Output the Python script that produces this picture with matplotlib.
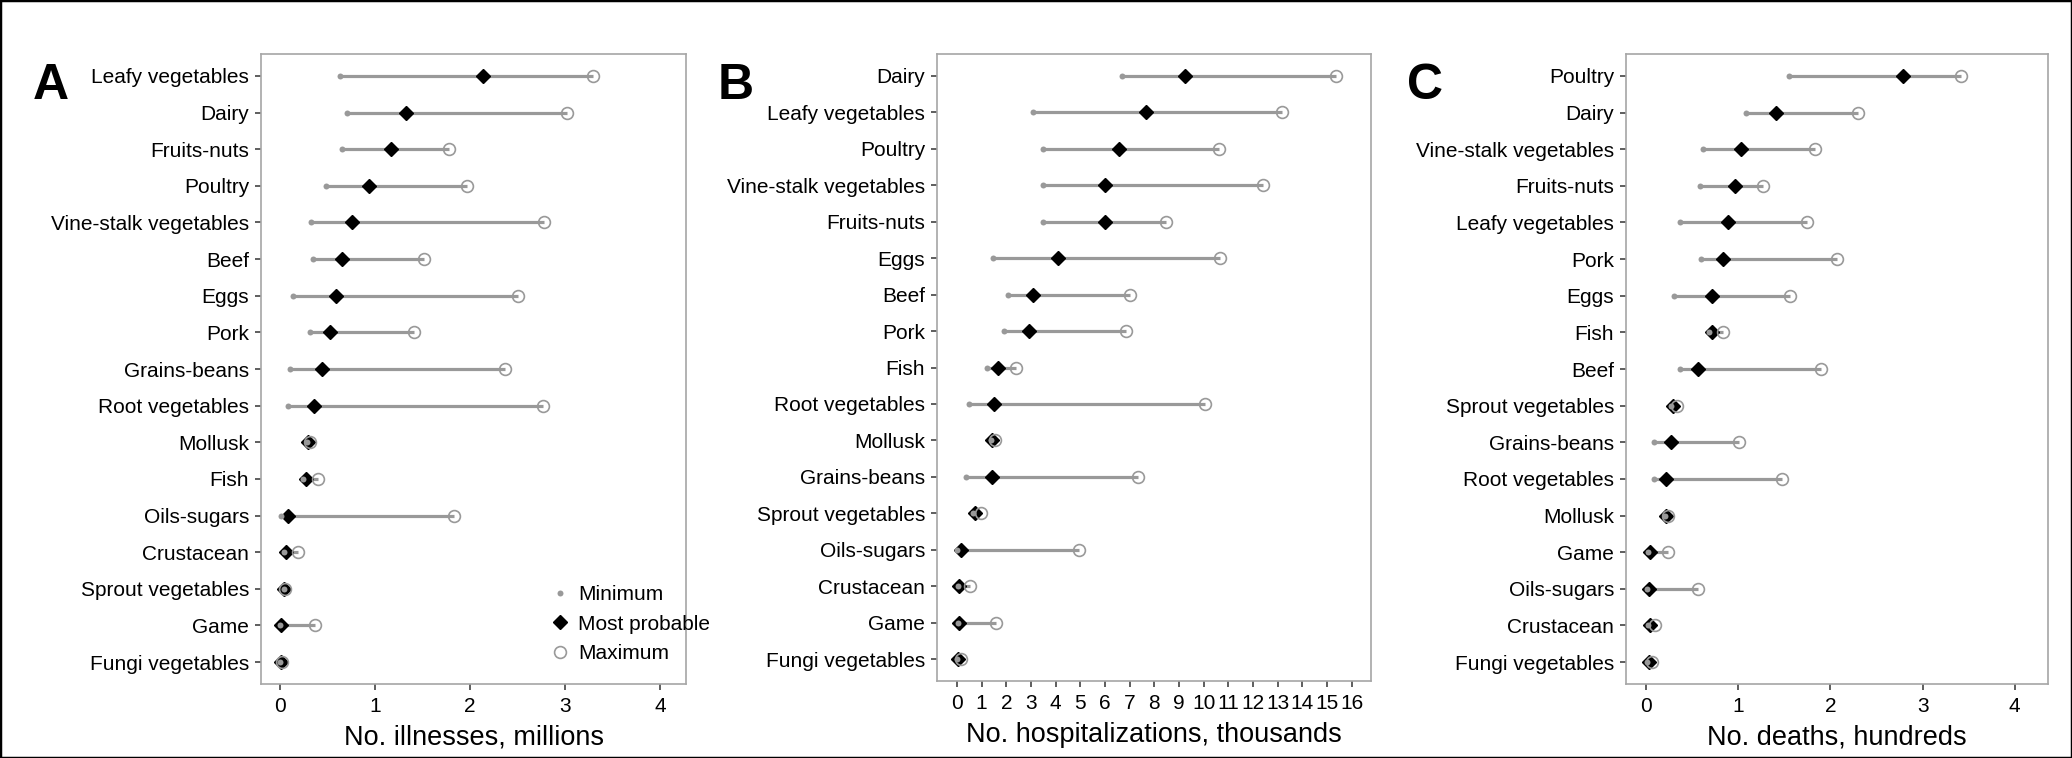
import matplotlib
matplotlib.use("Agg")
import matplotlib.pyplot as plt
from matplotlib.lines import Line2D
from matplotlib.patches import Rectangle

plt.rcParams['font.family'] = ['Liberation Sans', 'DejaVu Sans']

# panel A: illnesses, millions
cats_a = ["Leafy vegetables", "Dairy", "Fruits-nuts", "Poultry", "Vine-stalk vegetables",
          "Beef", "Eggs", "Pork", "Grains-beans", "Root vegetables", "Mollusk", "Fish",
          "Oils-sugars", "Crustacean", "Sprout vegetables", "Game", "Fungi vegetables"]
min_a = [0.63, 0.70, 0.65, 0.48, 0.33, 0.35, 0.14, 0.32, 0.11, 0.08, 0.28, 0.24, 0.01, 0.04, 0.04, 0.00, 0.00]
mp_a = [2.14, 1.32, 1.17, 0.94, 0.76, 0.65, 0.59, 0.53, 0.44, 0.36, 0.29, 0.27, 0.08, 0.06, 0.04, 0.01, 0.01]
max_a = [3.29, 3.02, 1.78, 1.97, 2.78, 1.51, 2.50, 1.41, 2.37, 2.77, 0.32, 0.40, 1.83, 0.19, 0.05, 0.37, 0.02]

# panel B: hospitalizations, thousands
cats_b = ["Dairy", "Leafy vegetables", "Poultry", "Vine-stalk vegetables", "Fruits-nuts",
          "Eggs", "Beef", "Pork", "Fish", "Root vegetables", "Mollusk", "Grains-beans",
          "Sprout vegetables", "Oils-sugars", "Crustacean", "Game", "Fungi vegetables"]
min_b = [6.69, 3.07, 3.50, 3.48, 3.48, 1.48, 2.07, 1.91, 1.23, 0.49, 1.39, 0.38, 0.65, 0.02, 0.05, 0.05, 0.00]
mp_b = [9.26, 7.68, 6.58, 6.02, 6.00, 4.08, 3.07, 2.94, 1.66, 1.50, 1.44, 1.42, 0.72, 0.18, 0.09, 0.09, 0.04]
max_b = [15.39, 13.20, 10.61, 12.43, 8.48, 10.66, 7.00, 6.84, 2.38, 10.06, 1.53, 7.36, 0.97, 4.94, 0.54, 1.59, 0.18]

# panel C: deaths, hundreds
cats_c = ["Poultry", "Dairy", "Vine-stalk vegetables", "Fruits-nuts", "Leafy vegetables",
          "Pork", "Eggs", "Fish", "Beef", "Sprout vegetables", "Grains-beans", "Root vegetables",
          "Mollusk", "Game", "Oils-sugars", "Crustacean", "Fungi vegetables"]
min_c = [1.55, 1.08, 0.62, 0.59, 0.37, 0.60, 0.30, 0.68, 0.37, 0.27, 0.09, 0.09, 0.21, 0.02, 0.01, 0.02, 0.01]
mp_c = [2.79, 1.41, 1.03, 0.97, 0.89, 0.83, 0.72, 0.72, 0.56, 0.29, 0.27, 0.22, 0.22, 0.04, 0.03, 0.04, 0.03]
max_c = [3.42, 2.30, 1.83, 1.27, 1.75, 2.07, 1.56, 0.83, 1.90, 0.34, 1.01, 1.47, 0.24, 0.24, 0.56, 0.10, 0.07]

grey = "#999999"
W, H = 2072, 758

fig = plt.figure(figsize=(W / 100, H / 100), dpi=100)


def panel(rect, cats, mins, mps, maxs, xlim, xticks, xlabel, letter, letter_x):
    ax = fig.add_axes(rect)
    n = len(cats)
    ys = [n - 1 - i for i in range(n)]
    ax.hlines(ys, mins, maxs, color=grey, lw=2.3, zorder=1)
    ax.plot(mps, ys, "D", color="black", ms=7.5, zorder=2)
    ax.plot(mins, ys, "o", color=grey, ms=4.3, mec="none", zorder=3)
    ax.plot(maxs, ys, "o", mfc="none", mec=grey, mew=1.2, ms=8.5, zorder=4)
    ax.set_ylim(-0.6, n - 0.4)
    ax.set_xlim(*xlim)
    ax.set_yticks(ys)
    ax.set_yticklabels(cats)
    ax.set_xticks(xticks)
    ax.set_xlabel(xlabel, fontsize=19.5, labelpad=6)
    ax.tick_params(labelsize=15, length=4.5, width=1.1, color="#333333", pad=4)
    ax.tick_params(axis="x", pad=5)
    for s in ax.spines.values():
        s.set_color("#a6a6a6")
        s.set_linewidth(1.2)
    fig.text(letter_x / W, 1 - 99 / H, letter, fontsize=36, fontweight="bold",
             ha="left", va="baseline")
    return ax


ax_a = panel([261 / W, 1 - 684 / H, 425 / W, 630 / H], cats_a, min_a, mp_a, max_a,
             (-0.2, 4.27), range(0, 5), "No. illnesses, millions", "A", 33)
panel([937 / W, 1 - 681 / H, 434 / W, 627 / H], cats_b, min_b, mp_b, max_b,
      (-0.81, 16.79), range(0, 17), "No. hospitalizations, thousands", "B", 718)
panel([1626 / W, 1 - 684 / H, 422 / W, 630 / H], cats_c, min_c, mp_c, max_c,
      (-0.217, 4.36), range(0, 5), "No. deaths, hundreds", "C", 1407)

handles = [Line2D([], [], ls="none", marker="o", color=grey, ms=4.3, mec="none"),
           Line2D([], [], ls="none", marker="D", color="black", ms=7.5),
           Line2D([], [], ls="none", marker="o", mfc="none", mec=grey, mew=1.2, ms=8.5)]
ax_a.legend(handles, ["Minimum", "Most probable", "Maximum"], loc="upper left",
            bbox_to_anchor=(0.655, 0.174), frameon=False, fontsize=15,
            borderpad=0, handlelength=1, handletextpad=0.35, labelspacing=0.52)

fig.patches.append(Rectangle((0, 0), 1, 1, transform=fig.transFigure, fill=False,
                             edgecolor="black", lw=2.5))

fig.savefig("out.png", dpi=100)
